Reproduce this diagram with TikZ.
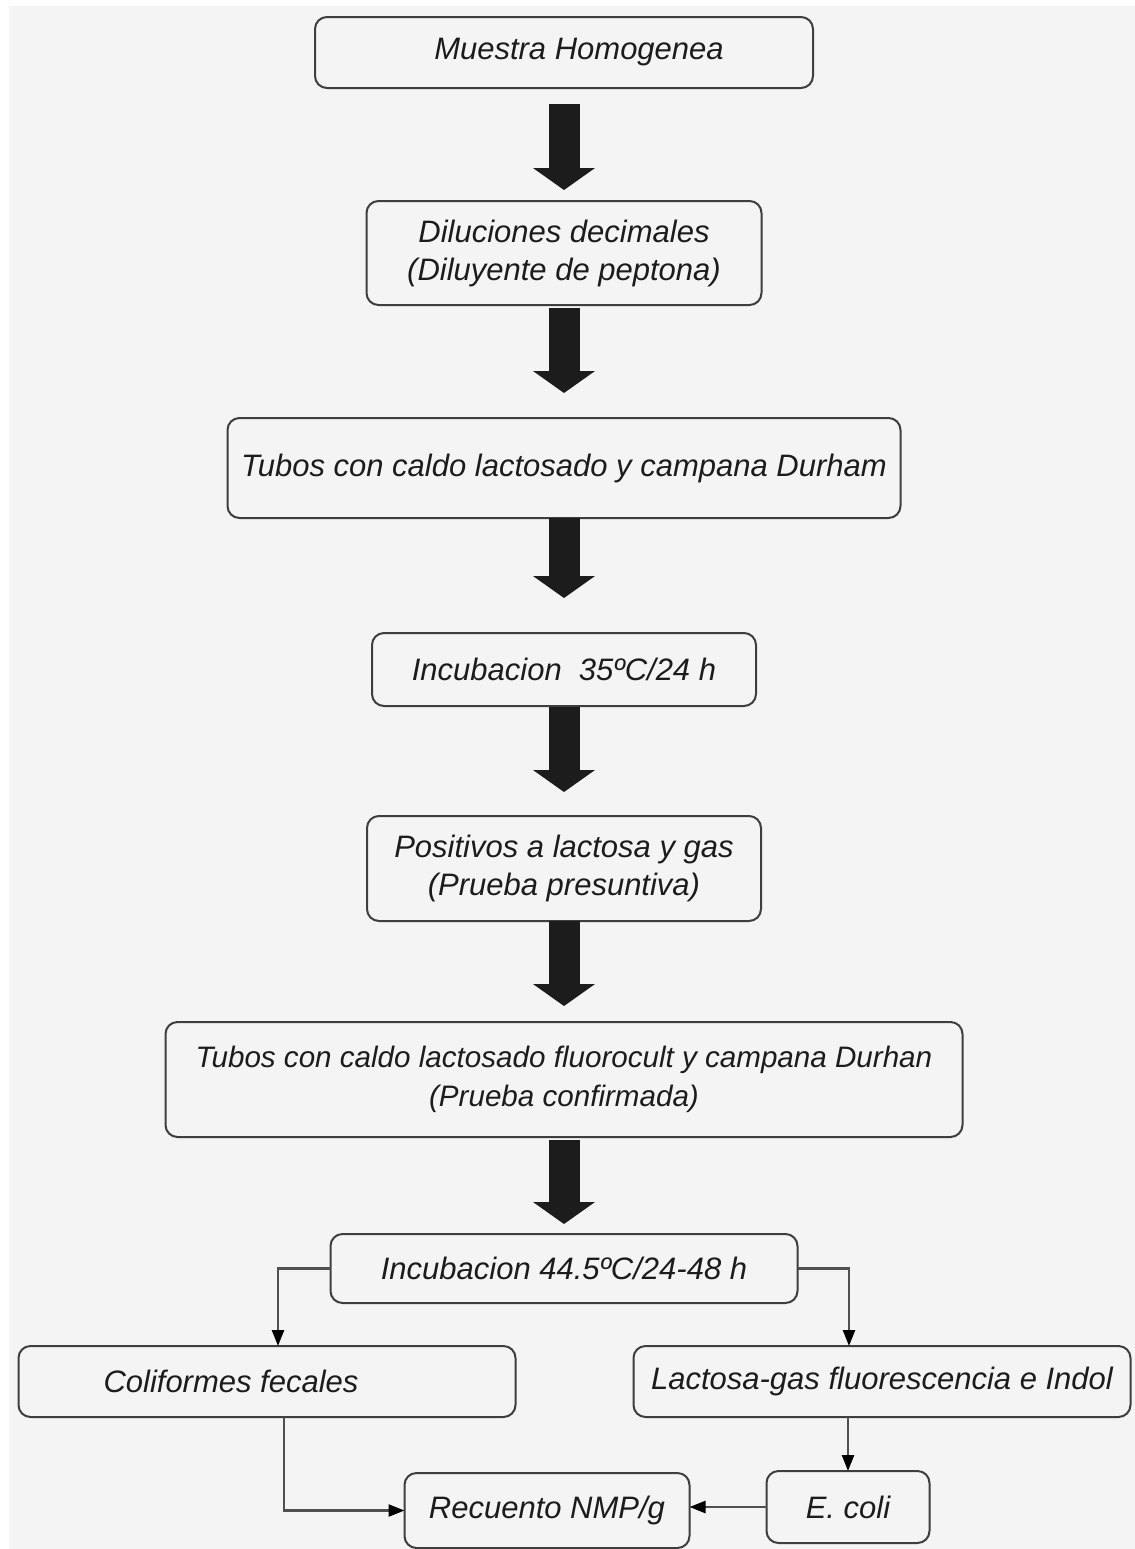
\documentclass[tikz,border=0pt]{standalone}
\usepackage{fontspec}
\setmainfont{Liberation Sans}
\usepackage{tikz}
\usetikzlibrary{positioning, arrows.meta}
\definecolor{pagegray}{RGB}{244,244,244}
\definecolor{boxedge}{RGB}{62,62,62}
\definecolor{arrowdark}{RGB}{28,28,28}
\definecolor{linkgray}{RGB}{80,80,80}
\tikzset{
  stepbox/.style = {rectangle, draw=boxedge, fill=pagegray, line width=1pt,
                    rounded corners=6pt, align=center, outer sep=0pt,
                    inner sep=2pt, text=arrowdark,
                    font=\itshape\fontsize{15.5}{19}\selectfont},
  blockarrow/.style = {draw=arrowdark, line width=15.5pt,
                       -{Triangle[width=31pt,length=11pt,line width=0pt]}},
  linkarrow/.style = {draw=linkgray, line width=1.2pt,
                      -{Triangle[width=6pt,length=8pt,color=black]}}
}
\begin{document}
\begin{tikzpicture}[node distance=56.5pt]
\useasboundingbox (0,0) rectangle (567.5pt,-774.5pt);
\fill[white] (0,0) rectangle (567.5pt,-774.5pt);
\fill[pagegray] (4.5pt,-3pt) rectangle (567.5pt,-774.5pt);

% main column
\node[stepbox, minimum width=249pt, minimum height=35.5pt] (muestra) at (282pt,-26.25pt)
  {\hspace*{15pt}Muestra Homogenea};
\node[stepbox, minimum width=197.5pt, minimum height=52pt, below=of muestra] (dilu)
  {Diluciones decimales\\(Diluyente de peptona)};
\node[stepbox, minimum width=336.5pt, minimum height=50pt, below=of dilu] (tubos)
  {Tubos con caldo lactosado y campana Durham};
\node[stepbox, minimum width=192pt, minimum height=36.5pt, below=57.5pt of tubos] (inc35)
  {Incubacion\ \ 35ºC/24 h};
\node[stepbox, minimum width=197pt, minimum height=52.5pt, below=55pt of inc35] (positivos)
  {Positivos a lactosa y gas\\(Prueba presuntiva)};
\node[stepbox, minimum width=398.5pt, minimum height=57.5pt, below=50.5pt of positivos,
      font=\itshape\fontsize{14.8}{19.5}\selectfont] (fluoro)
  {Tubos con caldo lactosado fluorocult y campana Durhan\\(Prueba confirmada)};
\node[stepbox, minimum width=233.5pt, minimum height=34.5pt, below=48.5pt of fluoro] (inc44)
  {Incubacion 44.5ºC/24-48 h};

% split
\node[stepbox, minimum width=248.5pt, minimum height=35.5pt, below=21.5pt of inc44, xshift=-148.5pt] (colif)
  {Coliformes fecales\hspace*{36pt}};
\node[stepbox, minimum width=248.5pt, minimum height=35.5pt, below=21.5pt of inc44, xshift=159pt] (lact)
  {Lactosa-gas fluorescencia e Indol};
\coordinate (rowc) at (colif.south -| inc44.south);
\node[stepbox, minimum width=142.5pt, minimum height=37.5pt, below=28pt of rowc, xshift=-8.5pt] (recuento)
  {Recuento NMP/g};
\node[stepbox, minimum width=81.5pt, minimum height=36pt, below=27pt of lact, xshift=-17pt] (ecoli)
  {E. coli};

\draw[blockarrow, shorten <=8pt, shorten >=5.5pt] (muestra) -- (dilu);
\draw[blockarrow, shorten <=1.5pt, shorten >=12.5pt] (dilu) -- (tubos);
\draw[blockarrow, shorten <=0pt, shorten >=17.5pt] (tubos) -- (inc35);
\draw[blockarrow, shorten <=0.5pt, shorten >=12pt] (inc35) -- (positivos);
\draw[blockarrow, shorten <=0pt, shorten >=8pt] (positivos) -- (fluoro);
\draw[blockarrow, shorten <=1.5pt, shorten >=5pt] (fluoro) -- (inc44);

\draw[linkarrow] (inc44.west) -| ([xshift=5.5pt]colif.north);
\draw[linkarrow] (inc44.east) -| ([xshift=-16.5pt]lact.north);
\draw[linkarrow] (ecoli.north |- lact.south) -- (ecoli.north);
\draw[linkarrow] ([xshift=8.5pt]colif.south) |- (recuento.west);
\draw[linkarrow] (ecoli.west) -- (ecoli.west -| recuento.east);
\end{tikzpicture}
\end{document}
